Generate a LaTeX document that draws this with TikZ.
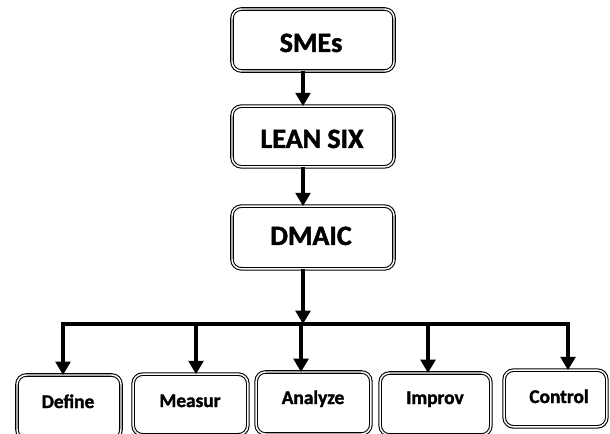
\documentclass[tikz,border=0pt]{standalone}
\usepackage{fontspec}
\setmainfont{Carlito}[BoldFeatures={FakeBold=1.6}]
\usetikzlibrary{arrows.meta}
\tikzset{
  box/.style={draw, double, line width=0.8pt, double distance=1.1pt, rounded corners=7pt, inner sep=0pt, outer sep=0pt},
  bigtxt/.style={anchor=base, inner sep=0pt, font=\bfseries\fontsize{21}{25}\selectfont},
  smalltxt/.style={anchor=base, inner sep=0pt, font=\bfseries\fontsize{14.5}{17}\selectfont},
  arr/.style={line width=3.2pt, -{Triangle[width=11pt,length=10pt]}},
  barline/.style={line width=3.6pt},
}
\begin{document}
\begin{tikzpicture}[x=0.75pt,y=-0.75pt]
\useasboundingbox[fill=white] (0,0) rectangle (610,434);
% top boxes
\node[box, minimum width=121.5pt, minimum height=46.5pt] (sme) at (313,40) {};
\node[bigtxt] (smeT) at (311,52) {SMEs};
\node[box, minimum width=121.5pt, minimum height=45.5pt] (lean) at (313,136.5) {};
\node[bigtxt] (leanT) at (312,148) {LEAN SIX};
\node[box, minimum width=121.5pt, minimum height=47pt] (dmaic) at (313,237.5) {};
\node[bigtxt] (dmaicT) at (311,245) {DMAIC};
% bottom boxes
\node[box, minimum width=78pt, minimum height=48pt] (define) at (69,407) {};
\node[smalltxt] (defineT) at (68,408) {Define};
\node[box, minimum width=86pt, minimum height=45.5pt] (measur) at (190.5,404.5) {};
\node[smalltxt] (measurT) at (190,407) {Measur};
\node[box, minimum width=86pt, minimum height=46.5pt] (analyze) at (313.5,403) {};
\node[smalltxt] (analyzeT) at (313,404) {Analyze};
\node[box, minimum width=83pt, minimum height=46.5pt] (improv) at (435.5,404) {};
\node[smalltxt] (improvT) at (435,404) {Improv};
\node[box, minimum width=77pt, minimum height=42.5pt] (control) at (555.5,398.5) {};
\node[smalltxt] (controlT) at (559,403) {Control};
% bar coordinates
\coordinate (j) at (303,324);
\coordinate (b1) at (63,324);
\coordinate (b2) at (196,324);
\coordinate (b3) at (301,324);
\coordinate (b4) at (428,324);
\coordinate (b5) at (568,324);
% connectors
\draw[arr] ([xshift=-7.5pt]sme.south) -- ([xshift=-7.5pt]lean.north);
\draw[arr] ([xshift=-7.5pt]lean.south) -- ([xshift=-7.5pt]dmaic.north);
\draw[arr] ([xshift=-7.5pt]dmaic.south) -- (j);
\draw[barline] ([xshift=-1.3pt]b1) -- ([xshift=1.3pt]b5);
\draw[arr] (b1) -- (b1 |- define.north);
\draw[arr] (b2) -- (b2 |- measur.north);
\draw[arr] (b3) -- (b3 |- analyze.north);
\draw[arr] (b4) -- (b4 |- improv.north);
\draw[arr] (b5) -- (b5 |- control.north);
\end{tikzpicture}
\end{document}
